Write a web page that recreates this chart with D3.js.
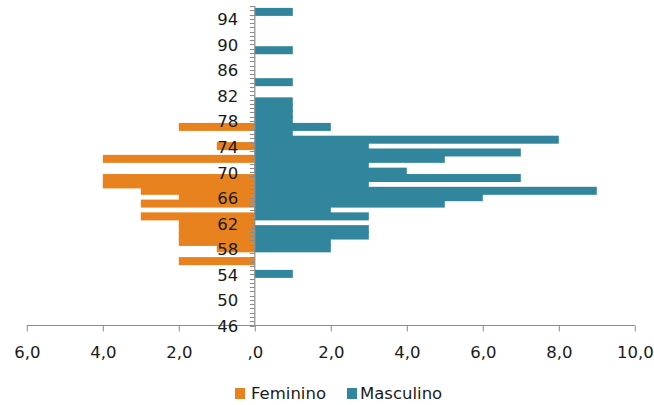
<!DOCTYPE html>
<html>
<head>
<meta charset="utf-8">
<script src="https://cdn.jsdelivr.net/npm/d3@7"></script>
<style>
  html, body { margin: 0; padding: 0; background: #ffffff; }
  svg { display: block; }
  text { font-family: "DejaVu Sans", sans-serif; fill: #1a1a1a; }
</style>
</head>
<body>
<svg id="chart" width="654" height="405"></svg>
<script>
// ---- data ----
const ages = d3.range(46, 96); // 46 .. 95
const feminino = [
  0,0,0,0,0,0,0,0,0,0,   // 46-55
  2,0,1,2,2,2,2,3,0,3,   // 56-65
  2,3,4,4,0,0,4,0,1,0,   // 66-75
  0,2,0,0,0,0,0,0,0,0,   // 76-85
  0,0,0,0,0,0,0,0,0,0    // 86-95
];
const masculino = [
  0,0,0,0,0,0,0,0,1,0,   // 46-55
  0,0,2,2,3,3,0,3,2,5,   // 56-65
  6,9,3,7,4,3,5,7,3,8,   // 66-75
  1,2,1,1,1,1,0,0,1,0,   // 76-85
  0,0,0,1,0,0,0,0,0,1    // 86-95
];
const yLabels = [46,50,54,58,62,66,70,74,78,82,86,90,94];
const xTickValues = [-6,-4,-2,0,2,4,6,8,10];
const xTickLabels = ["6,0","4,0","2,0",",0","2,0","4,0","6,0","8,0","10,0"];
const seriesNames = ["Feminino","Masculino"];
const colors = ["#E8821E","#31859C"];

// ---- scales ----
const svg = d3.select("#chart");
const x = d3.scaleLinear().domain([-6, 10]).range([26.8, 634.8]);
const y = d3.scaleLinear().domain([46, 96]).range([325.5, 6]);
const barH = 8;
const axisColor = "#8c8c8c";
const fontSize = "16.5px";

// ---- bars ----
const gBars = svg.append("g");
gBars.selectAll("rect.fem")
  .data(ages.map((a, i) => ({a, v: feminino[i]})).filter(d => d.v > 0))
  .join("rect")
  .attr("x", d => x(-d.v))
  .attr("width", d => x(0) - x(-d.v))
  .attr("y", d => y(d.a) - barH / 2 - 0.5)
  .attr("height", barH)
  .attr("fill", colors[0]);
gBars.selectAll("rect.mas")
  .data(ages.map((a, i) => ({a, v: masculino[i]})).filter(d => d.v > 0))
  .join("rect")
  .attr("x", x(0))
  .attr("width", d => x(d.v) - x(0))
  .attr("y", d => y(d.a) - barH / 2 - 0.5)
  .attr("height", barH)
  .attr("fill", colors[1]);

// ---- x axis ----
const xAxis = d3.axisBottom(x)
  .tickValues(xTickValues)
  .tickFormat((d, i) => xTickLabels[i])
  .tickSize(6)
  .tickPadding(15);
const gx = svg.append("g")
  .attr("transform", `translate(0,${y(46)})`)
  .call(xAxis);
gx.select(".domain").attr("stroke", axisColor).attr("d", `M${x(-6)},0H${x(10)}`);
gx.selectAll(".tick line").attr("stroke", axisColor);
gx.selectAll(".tick text")
  .style("font-family", '"DejaVu Sans", sans-serif')
  .style("font-size", fontSize)
  .attr("fill", "#1a1a1a");

// ---- y axis (minor ticks every 2/3 unit, labels every 4) ----
const yMinor = d3.range(0, 76).map(k => 46 + k * 2 / 3);
const gy = svg.append("g").attr("transform", `translate(${x(0)},0)`);
gy.selectAll("line.tk")
  .data(yMinor)
  .join("line")
  .attr("x1", -5).attr("x2", 0)
  .attr("y1", d => Math.round(y(d)) + 0.5)
  .attr("y2", d => Math.round(y(d)) + 0.5)
  .attr("stroke", axisColor)
  .attr("stroke-width", 1);
gy.append("line")
  .attr("x1", 0).attr("x2", 0)
  .attr("y1", y(46)).attr("y2", y(96))
  .attr("stroke", axisColor)
  .attr("stroke-width", 1.2);
gy.selectAll("text.lbl")
  .data(yLabels)
  .join("text")
  .attr("x", -16.5)
  .attr("y", d => y(d) + 0.5)
  .attr("dy", "0.36em")
  .attr("text-anchor", "end")
  .style("font-size", fontSize)
  .text(d => d);

// ---- legend ----
const legend = svg.append("g").attr("transform", "translate(0,393)");
const legendItems = [
  {name: seriesNames[0], color: colors[0], sx: 235, tx: 251},
  {name: seriesNames[1], color: colors[1], sx: 347, tx: 360}
];
legend.selectAll("rect")
  .data(legendItems)
  .join("rect")
  .attr("x", d => d.sx).attr("y", -5)
  .attr("width", 10).attr("height", 11)
  .attr("fill", d => d.color);
legend.selectAll("text")
  .data(legendItems)
  .join("text")
  .attr("x", d => d.tx).attr("y", 0)
  .attr("dy", "0.36em")
  .style("font-size", fontSize)
  .text(d => d.name);
</script>
</body>
</html>
